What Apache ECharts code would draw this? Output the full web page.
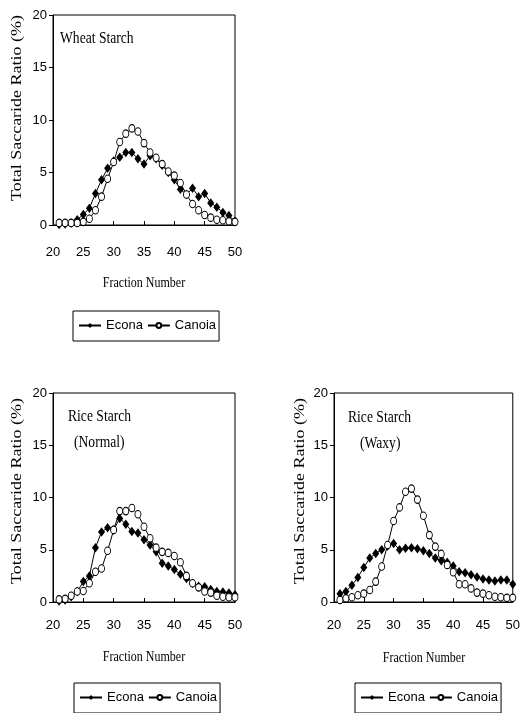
<!DOCTYPE html>
<html>
<head>
<meta charset="utf-8">
<script src="https://cdn.jsdelivr.net/npm/echarts@6/dist/echarts.min.js"></script>
<style>
html,body{margin:0;padding:0;background:#fff;}
#chart{width:523px;height:713px;}
</style>
</head>
<body>
<div id="chart"></div>
<script>
// Fraction numbers (x values)
const fractions = [21,22,23,24,25,26,27,28,29,30,31,32,33,34,35,36,37,38,39,40,41,42,43,44,45,46,47,48,49,50];

// Wheat Starch
const wheatEcona  = [0.05,0.1,0.2,0.5,1.0,1.6,3.0,4.3,5.4,6.1,6.45,6.9,6.9,6.3,5.8,6.6,6.3,5.7,5.0,4.3,3.4,2.9,3.5,2.7,3.0,2.1,1.7,1.2,0.9,0.35];
const wheatCanoia = [0.2,0.2,0.2,0.2,0.3,0.6,1.4,2.7,4.4,6.0,7.9,8.7,9.2,8.9,7.8,6.9,6.4,5.8,5.1,4.7,4.0,2.9,2.0,1.4,0.95,0.7,0.5,0.45,0.35,0.3];

// Rice Starch (Normal)
const normalEcona  = [0.1,0.2,0.5,1.0,1.95,2.5,5.2,6.7,7.1,6.9,8.0,7.45,6.75,6.6,5.95,5.45,4.8,3.7,3.45,3.1,2.65,2.25,1.8,1.5,1.45,1.2,1.0,0.95,0.85,0.7];
const normalCanoia = [0.25,0.3,0.6,1.0,1.05,1.8,2.9,3.2,4.9,6.9,8.7,8.7,9.0,8.4,7.2,6.1,5.2,4.8,4.7,4.4,3.8,2.5,1.8,1.4,1.0,0.9,0.6,0.5,0.45,0.45];

// Rice Starch (Waxy)
const waxyEcona  = [0.8,1.0,1.6,2.35,3.3,4.2,4.65,5.0,5.35,5.6,5.0,5.15,5.2,5.1,4.9,4.65,4.2,3.95,3.8,3.45,2.9,2.8,2.6,2.4,2.2,2.1,2.0,2.1,2.1,1.7];
const waxyCanoia = [0.2,0.35,0.45,0.65,0.8,1.15,1.95,3.4,5.45,7.75,9.05,10.55,10.85,9.8,8.25,6.4,5.3,4.6,3.55,2.85,1.7,1.7,1.3,0.9,0.8,0.65,0.5,0.45,0.4,0.4];

const seriesNames = ['Econa', 'Canoia'];
const panelTitles = [['Wheat Starch'], ['Rice Starch', '(Normal)'], ['Rice Starch', '(Waxy)']];
const yAxisTitle = 'Total Saccaride Ratio (%)';
const xAxisTitle = 'Fraction Number';

const sans = "'Liberation Sans Narrow','Arial Narrow','Liberation Sans',Arial,sans-serif";
const serif = "'Liberation Serif','Times New Roman',serif";

const pairs = arr => fractions.map((f, i) => [f, arr[i]]);

const grids = [
  {left: 53, top: 15, width: 182, height: 210},
  {left: 53, top: 393, width: 182, height: 209},
  {left: 334, top: 393, width: 182, height: 209}
];
const labelMargins = [21, 17, 17];

function xAxisFor(i) {
  return {
    gridIndex: i, type: 'value', min: 20, max: 50, interval: 5,
    axisLine: {show: true, lineStyle: {color: '#000', width: 1}},
    axisTick: {show: true, inside: true, length: 4, lineStyle: {color: '#000'}},
    axisLabel: {color: '#000', fontFamily: sans, fontSize: 13, margin: labelMargins[i]},
    splitLine: {show: false}
  };
}
function yAxisFor(i) {
  return {
    gridIndex: i, type: 'value', min: 0, max: 20, interval: 5,
    axisLine: {show: true, lineStyle: {color: '#000', width: 1}},
    axisTick: {show: true, inside: false, length: 4, lineStyle: {color: '#000'}},
    axisLabel: {color: '#000', fontFamily: sans, fontSize: 13, margin: 6},
    splitLine: {show: false}
  };
}

const panelData = [[wheatEcona, wheatCanoia], [normalEcona, normalCanoia], [waxyEcona, waxyCanoia]];

const series = [];
panelData.forEach((pd, i) => {
  series.push({
    name: seriesNames[0], type: 'line', xAxisIndex: i, yAxisIndex: i,
    data: pairs(pd[0]), symbol: 'diamond', symbolSize: [7, 9.5],
    color: '#000',
    lineStyle: {color: '#000', width: 1},
    itemStyle: {color: '#000', borderWidth: 0},
    z: 2
  });
  series.push({
    name: seriesNames[1], type: 'line', xAxisIndex: i, yAxisIndex: i,
    data: pairs(pd[1]), symbol: 'circle', symbolSize: [6, 7.5],
    color: '#000',
    lineStyle: {color: '#000', width: 1},
    itemStyle: {color: '#fff', borderColor: '#000', borderWidth: 1},
    z: 3
  });
});

const legendPos = [{left: 73, top: 311}, {left: 74, top: 683}, {left: 355, top: 683}];
const legends = legendPos.map(p => ({
  left: p.left, top: p.top, orient: 'horizontal',
  data: seriesNames,
  itemWidth: 22, itemHeight: 6, itemGap: 4,
  padding: [8, 3, 9, 5],
  borderColor: '#000', borderWidth: 1,
  selectedMode: false,
  textStyle: {color: '#000', fontFamily: sans, fontSize: 13}
}));

function txt(text, x, y, opts) {
  const o = Object.assign({font: '15px ' + serif, align: 'left', rotation: 0, scaleX: 1, scaleY: 1}, opts || {});
  return {
    type: 'text', x: x, y: y, rotation: o.rotation, scaleX: o.scaleX, scaleY: o.scaleY, silent: true,
    style: {text: text, font: o.font, fill: '#000', align: o.align, verticalAlign: 'middle',
            textAlign: o.align, textVerticalAlign: 'middle'}
  };
}

const graphics = [
  // panel titles
  txt(panelTitles[0][0], 60, 39, {font: '17px ' + serif, scaleX: 0.8}),
  txt(panelTitles[1][0], 68, 417, {font: '17px ' + serif, scaleX: 0.8}),
  txt(panelTitles[1][1], 74, 443, {font: '17px ' + serif, scaleX: 0.8}),
  txt(panelTitles[2][0], 348, 418, {font: '17px ' + serif, scaleX: 0.8}),
  txt(panelTitles[2][1], 360, 444, {font: '17px ' + serif, scaleX: 0.8}),
  // y-axis titles
  txt(yAxisTitle, 17, 108, {font: '18px ' + serif, align: 'center', rotation: Math.PI / 2, scaleY: 0.8}),
  txt(yAxisTitle, 17, 491, {font: '18px ' + serif, align: 'center', rotation: Math.PI / 2, scaleY: 0.8}),
  txt(yAxisTitle, 300, 491, {font: '18px ' + serif, align: 'center', rotation: Math.PI / 2, scaleY: 0.8}),
  // x-axis titles
  txt(xAxisTitle, 144, 283, {align: 'center', scaleX: 0.8}),
  txt(xAxisTitle, 144, 657, {align: 'center', scaleX: 0.8}),
  txt(xAxisTitle, 424, 658, {align: 'center', scaleX: 0.8})
];

const chart = echarts.init(document.getElementById('chart'), null, {renderer: 'canvas'});
chart.setOption({
  backgroundColor: '#fff',
  animation: false,
  grid: grids.map(g => Object.assign({show: true, borderColor: '#000', borderWidth: 1, backgroundColor: 'transparent'}, g)),
  xAxis: [0, 1, 2].map(xAxisFor),
  yAxis: [0, 1, 2].map(yAxisFor),
  legend: legends,
  series: series,
  graphic: {elements: graphics}
});
</script>
</body>
</html>
